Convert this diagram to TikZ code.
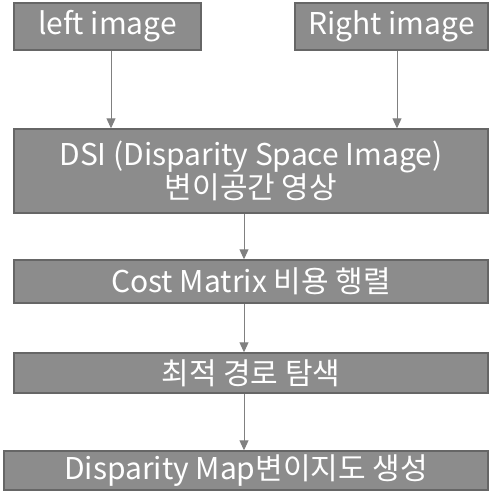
\documentclass[tikz,border=0pt]{standalone}
\usepackage{fontspec}
\setmainfont{Noto Sans CJK KR}
\usetikzlibrary{arrows.meta}
\begin{document}
\begin{tikzpicture}[x=1pt,y=-1pt,
box/.style={draw=black!60,line width=1.4pt,fill=black!45,text=white,inner sep=0pt,
  font=\fontsize{30}{33}\selectfont,align=center},
arr/.style={draw=black!50,line width=1pt,-{Triangle[width=9pt,length=10pt]}}]
	\useasboundingbox (0,0) rectangle (489,491);
	\node[box,minimum width=187,minimum height=47] (left) at (107.5,26.5) {left image};
	\node[box,minimum width=193,minimum height=47] (right) at (391.5,26.5) {Right image};
	\node[box,minimum width=474,minimum height=84] (dsi) at (251,171) {DSI (Disparity Space Image)\\변이공간 영상};
	\node[box,minimum width=474,minimum height=43] (cost) at (251,281.5) {Cost Matrix 비용 행렬};
	\node[box,minimum width=474,minimum height=40] (path) at (251,373) {최적 경로 탐색};
	\node[box,minimum width=484,minimum height=39] (map) at (246,470.5) {Disparity Map변이지도 생성};
	% arrows
	\draw[arr] ([xshift=3.5pt]left.south) -- ([xshift=3.5pt]left.south |- dsi.north);
	\draw[arr] ([xshift=5.5pt]right.south) -- ([xshift=5.5pt]right.south |- dsi.north);
	\draw[arr] ([xshift=-7pt]dsi.south) -- ([xshift=-7pt]dsi.south |- cost.north);
	\draw[arr] ([xshift=-7pt]cost.south) -- ([xshift=-7pt]cost.south |- path.north);
	\draw[arr] ([xshift=-7pt]path.south) -- ([xshift=-7pt]path.south |- map.north);
\end{tikzpicture}
\end{document}
